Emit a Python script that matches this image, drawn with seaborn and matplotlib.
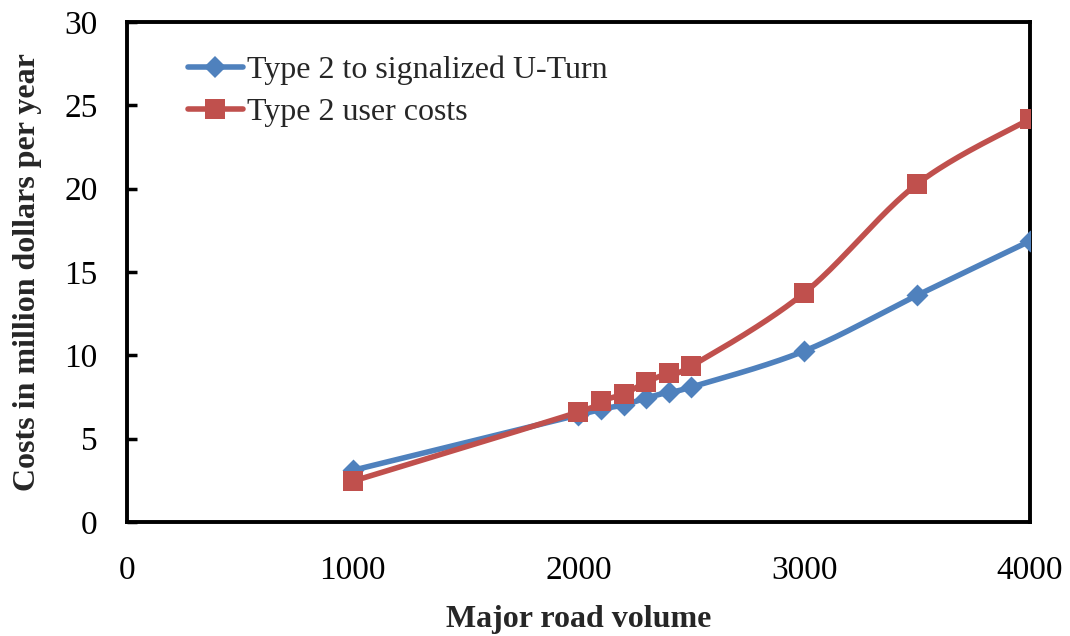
import numpy as np
import pandas as pd
import matplotlib
matplotlib.use("Agg")
import matplotlib.pyplot as plt
from matplotlib.lines import Line2D
import seaborn as sns

# ---- data ----
volume = [1000, 2000, 2100, 2200, 2300, 2400, 2500, 3000, 3500, 4000]
uturn_costs = [3.1, 6.42, 6.78, 7.02, 7.44, 7.8, 8.1, 10.26, 13.6, 16.86]
user_costs = [2.45, 6.6, 7.26, 7.68, 8.4, 8.94, 9.36, 13.74, 20.28, 24.18]
series_names = ["Type 2 to signalized U-Turn", "Type 2 user costs"]
x_ticks = [0, 1000, 2000, 3000, 4000]
y_ticks = [0, 5, 10, 15, 20, 25, 30]

BLUE = "#4F81BD"
RED = "#C0504D"

sns.set_theme(style="white")
plt.rcParams["font.family"] = ["Liberation Serif", "DejaVu Serif"]


def smooth(xs, ys, sx=0.22575, sy=16.67, n=40):
    """Excel-style Bezier smoothing computed in screen-like units."""
    P = np.column_stack([np.asarray(xs, float) * sx, np.asarray(ys, float) * sy])
    ext = np.vstack([P[0], P, P[-1]])
    out = []
    t = np.linspace(0, 1, n)[:, None]
    for i in range(len(P) - 1):
        p0, p3 = ext[i + 1], ext[i + 2]
        c1 = p0 + (ext[i + 2] - ext[i]) / 6.0
        c2 = p3 - (ext[i + 3] - ext[i + 1]) / 6.0
        seg = ((1 - t) ** 3) * p0 + 3 * ((1 - t) ** 2) * t * c1 + 3 * (1 - t) * t ** 2 * c2 + t ** 3 * p3
        out.append(seg if i == 0 else seg[1:])
    out = np.vstack(out)
    return out[:, 0] / sx, out[:, 1] / sy


fig = plt.figure(figsize=(10.7, 6.36), dpi=100)
ax = fig.add_axes([0.1187, 0.1792, 0.8439, 0.7862])

for ys, col, mk, ms in [(uturn_costs, BLUE, "D", 125), (user_costs, RED, "s", 210)]:
    sxv, syv = smooth(volume, ys)
    sns.lineplot(x=sxv, y=syv, ax=ax, color=col, lw=4, sort=False, estimator=None, legend=False)
    sns.scatterplot(x=volume, y=ys, ax=ax, color=col, marker=mk, s=ms, linewidth=0, legend=False, zorder=5)

ax.set_xlim(0, 4000)
ax.set_ylim(0, 30)
ax.set_xticks(x_ticks)
ax.set_yticks(y_ticks)
ax.tick_params(axis="y", direction="in", length=7, width=2.5, pad=21, labelsize=24, colors="black", left=True)
ax.tick_params(axis="x", length=0, pad=24, labelsize=24, colors="black")
for s in ax.spines.values():
    s.set_linewidth(2.8)
    s.set_color("black")
    s.set_visible(True)

ax.set_xlabel("Major road volume", fontsize=23, fontweight="bold", labelpad=14)
ax.set_ylabel("Costs in million dollars per year", fontsize=23, fontweight="bold", labelpad=16)

handles = [
    Line2D([], [], color=BLUE, lw=4, marker="D", markersize=11, markeredgewidth=0),
    Line2D([], [], color=RED, lw=4, marker="s", markersize=14, markeredgewidth=0),
]
ax.legend(handles, series_names, loc="upper left", bbox_to_anchor=(0.067, 0.933), frameon=False,
          fontsize=23, handlelength=1.75, handletextpad=0.1, labelspacing=0.4, borderpad=0, borderaxespad=0)

fig.savefig("out.png", dpi=100)
